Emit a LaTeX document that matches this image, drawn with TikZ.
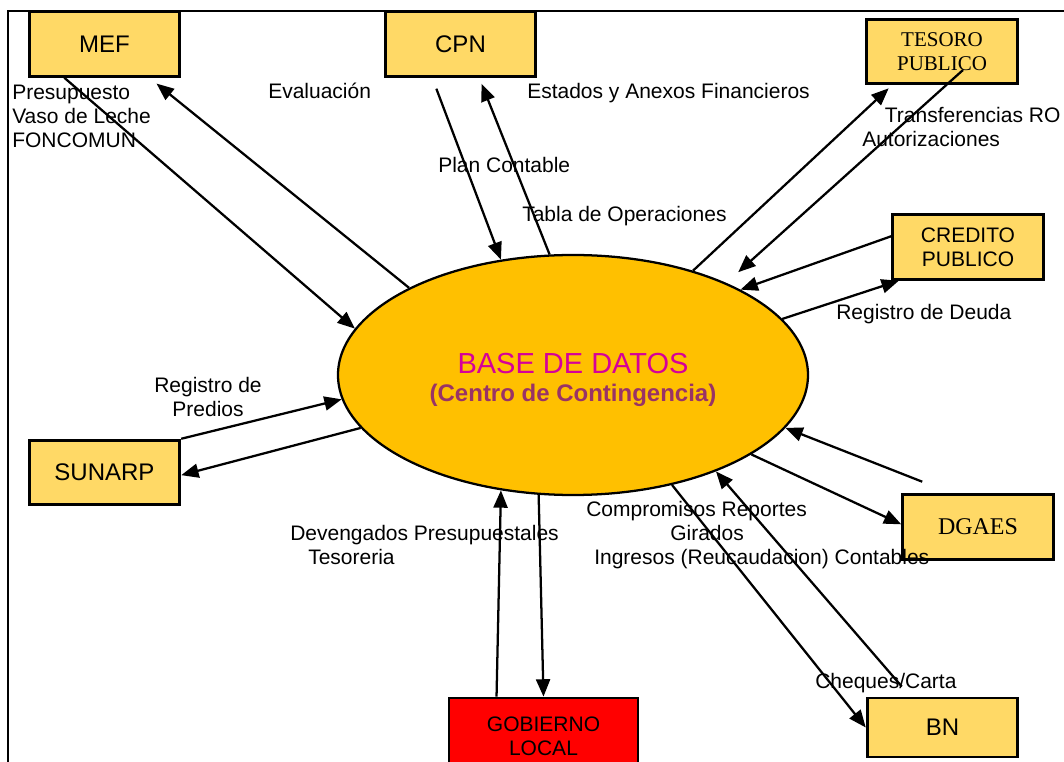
\documentclass[tikz,border=0pt]{standalone}
\usepackage{fontspec}
\setmainfont{Liberation Sans}
\newfontfamily\timesfont{Liberation Serif}
\usepackage{tikz}
\usetikzlibrary{arrows.meta,shapes.geometric,calc}

\definecolor{boxfill}{RGB}{255,217,102}
\definecolor{dbfill}{RGB}{255,192,0}
\definecolor{dbpink}{RGB}{214,0,153}
\definecolor{dbplum}{RGB}{153,51,102}

\begin{document}
\begin{tikzpicture}[x=0.75pt,y=-0.75pt,
	ent/.style={draw,line width=2.1pt,fill=boxfill,minimum width=113pt,minimum height=48.5pt,inner sep=0pt,align=center,font=\fontsize{18}{21.6}\selectfont},
	flow/.style={-{Triangle[length=13pt,width=10.5pt]},line width=1.7pt},
	lbl/.style={inner sep=0pt,anchor=base west,align=left,font=\fontsize{15.75}{18}\selectfont}]
	\useasboundingbox (0,0) rectangle (1064,762);
	\clip (0,0) rectangle (1064,762);
	\draw[line width=1.4pt] (8,770) -- (8,11) -- (1070,11);

	\node[ellipse,draw,line width=1.7pt,fill=dbfill,minimum width=352.5pt,minimum height=180pt,inner sep=0pt,align=center,font=\fontsize{21.75}{21.2}\selectfont] (db) at (573,375)
	{\rule{0pt}{23pt}{\color{dbpink}BASE DE DATOS}\\{\fontsize{18}{21.2}\selectfont\bfseries\color{dbplum}(Centro de Contingencia)}};

	\node[ent] (mef) at (104.5,44) {MEF};
	\node[ent] (cpn) at (460.5,44) {CPN};
	\node[ent,font=\timesfont\fontsize{15.75}{18}\selectfont] (tesoro) at (942,51.5) {TESORO\\PUBLICO};
	\node[ent,font=\fontsize{15.75}{18}\selectfont] (credito) at (968,247) {CREDITO\\PUBLICO};
	\node[ent] (sunarp) at (104.5,472.5) {SUNARP};
	\node[ent,font=\timesfont\fontsize{18}{21.6}\selectfont] (dgaes) at (978,527) {DGAES};
	\node[ent,minimum height=44.25pt] (bn) at (942.5,727.5) {BN};
	\node[ent,fill=red,minimum width=141.75pt,minimum height=57pt,font=\fontsize{15.75}{18}\selectfont] (gob) at (543.5,736) {GOBIERNO\\LOCAL};

	% MEF
	\draw[flow] (mef.220) -- (db.168);
	\draw[flow,shorten >=7pt] (db.152) -- (mef.-37.5);
	% CPN
	\draw[flow,shorten <=8.8pt] (cpn.230.2) -- (db.122);
	\draw[flow,shorten >=4.9pt] (db.101) -- (cpn.-61.3);
	% tesoro
	\draw[flow,shorten >=3.4pt] (db.41) -- (tesoro.214.8);
	\draw[flow,shorten >=12pt] ($(tesoro.center)+(21,18.5)$) -- (db.31.4);
	% credito
	\draw[flow] (credito.172.4) -- (db.27);
	\draw[flow] (db.15) -- (credito.206);
	% sunarp
	\draw[flow] (sunarp.north east) -- (db.186);
	\draw[flow] (db.194) -- (sunarp.-2);
	% dgaes
	\draw[flow,shorten <=23.7pt] (dgaes.128.4) -- (db.-14);
	\draw[flow] (db.-24) -- (dgaes.178);
	% bn
	\draw[flow,shorten <=10pt] (bn.136.2) -- (db.-34);
	\draw[flow] (db.-48.6) -- (bn.west);
	% gobierno local
	\draw[flow] (gob.140.1) -- (db.238);
	\draw[flow] (db.254.7) -- (gob.north);

	\node[lbl] (lpres) at (12,148) {Presupuesto\\Vaso de Leche\\FONCOMUN};
	\node[lbl] (leval) at (268,99) {Evaluación};
	\node[lbl] (lestados) at (527,99) {Estados y Anexos Financieros};
	\node[lbl] (lplan) at (438,173) {Plan Contable};
	\node[lbl] (ltabla) at (522,222) {Tabla de Operaciones};
	\node[lbl] (ltransf) at (862,147) {\hspace*{17pt}Transferencias RO\\Autorizaciones};
	\node[lbl] (ldeuda) at (836,320) {Registro de Deuda};
	\node[lbl,anchor=base,align=center] (lpredios) at (208,417) {Registro de\\Predios};
	\node[lbl] (ldeveng) at (290,565) {Devengados Presupuestales\\\hspace*{13.5pt}Tesoreria};
	\node[lbl] (lcompr) at (586,565) {Compromisos Reportes\\\hspace*{63pt}Girados\\\hspace*{6pt}Ingresos (Reucaudacion) Contables};
	\node[lbl] (lcheq) at (815,688) {Cheques/Carta};
\end{tikzpicture}
\end{document}
